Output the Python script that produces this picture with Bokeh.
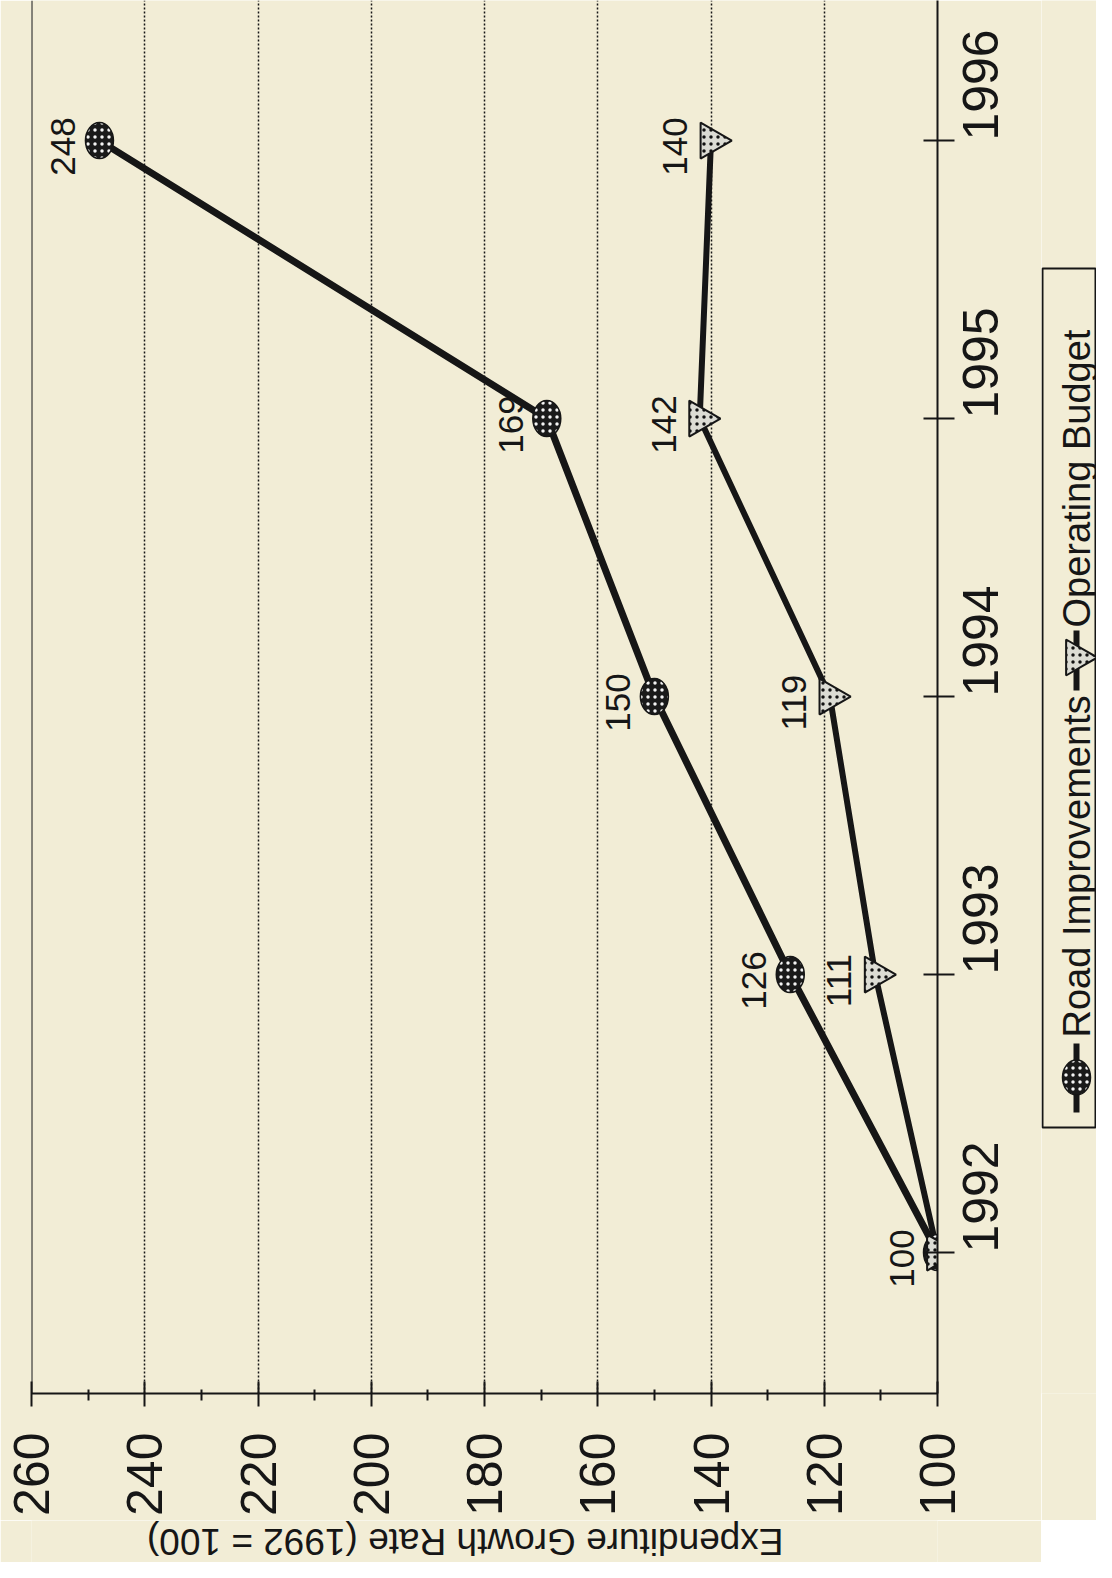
import math
from bokeh.plotting import figure
from bokeh.models import Range1d, FixedTicker, Span
from bokeh.layouts import row, column
from bokeh.embed import file_html
from bokeh.resources import INLINE
from bokeh.core.properties import value

# ---- data ----
years = [1992, 1993, 1994, 1995, 1996]
road_improvements = [100, 126, 150, 169, 248]
operating_budget = [100, 111, 119, 142, 140]
road_labels = ["100", "126", "150", "169", "248"]
oper_labels = ["100", "111", "119", "142", "140"]
value_ticks = [100, 120, 140, 160, 180, 200, 220, 240, 260]
value_minor_ticks = [110, 130, 150, 170, 190, 210, 230, 250]
grid_values = [120, 140, 160, 180, 200, 220, 240]
year_ticks = [1992, 1993, 1994, 1995, 1996]
axis_title = "Expenditure Growth Rate (1992 = 100)"
legend_names = ["Road Improvements", "Operating Budget"]

BG = "#F2EDD6"
INK = "#161616"
FONT = "Liberation Sans"

TOTAL_W, TOTAL_H = 1096, 1562
P_W, P_H = 1041, 1520
BORDER_L, BORDER_R, BORDER_B = 31, 104, 127

p = figure(width=P_W, height=P_H,
           x_range=Range1d(260, 100), y_range=Range1d(1991.493, 1996.504),
           output_backend="svg", toolbar_location=None,
           y_axis_location="right",
           min_border_left=BORDER_L, min_border_right=BORDER_R,
           min_border_top=0, min_border_bottom=BORDER_B,
           background_fill_color=BG, border_fill_color=BG,
           outline_line_color=None)

# bottom (value) axis
xa = p.xaxis[0]
xa.ticker = FixedTicker(ticks=value_ticks, minor_ticks=value_minor_ticks)
xa.axis_line_color = INK
xa.axis_line_width = 2
xa.major_tick_line_color = INK
xa.major_tick_line_width = 2
xa.major_tick_in = 12
xa.major_tick_out = 13
xa.minor_tick_line_color = INK
xa.minor_tick_line_width = 2
xa.minor_tick_in = 4
xa.minor_tick_out = 7
xa.major_label_orientation = math.pi / 2
xa.major_label_standoff = 26
xa.major_label_text_font = FONT
xa.major_label_text_font_size = "50px"
xa.major_label_text_color = INK

# right (year) axis
ya = p.yaxis[0]
ya.ticker = FixedTicker(ticks=year_ticks, minor_ticks=[])
ya.axis_line_color = INK
ya.axis_line_width = 2
ya.major_tick_line_color = INK
ya.major_tick_line_width = 2
ya.major_tick_in = 14
ya.major_tick_out = 17
ya.minor_tick_line_color = None
ya.major_label_orientation = math.pi / 2
ya.major_label_standoff = 26
ya.major_label_text_font = FONT
ya.major_label_text_font_size = "50px"
ya.major_label_text_color = INK

p.xgrid.ticker = FixedTicker(ticks=grid_values)
p.xgrid.grid_line_color = INK
p.xgrid.grid_line_dash = "2 2"
p.xgrid.grid_line_width = 1.5
p.ygrid.grid_line_color = None

p.add_layout(Span(location=260, dimension="height", line_color=INK, line_width=2))

# data labels (drawn first, so lines pass over them)
p.text(x=road_improvements, y=years, text=road_labels, angle=math.pi / 2,
       text_align="center", text_baseline="middle", x_offset=-36, y_offset=6,
       text_font=value(FONT), text_font_size="35px", text_color=INK)
p.text(x=operating_budget[1:], y=years[1:], text=oper_labels[1:], angle=math.pi / 2,
       text_align="center", text_baseline="middle", x_offset=-36, y_offset=6,
       text_font=value(FONT), text_font_size="35px", text_color=INK)

# lines
p.line(x=road_improvements, y=years, line_color=INK, line_width=7)
p.line(x=operating_budget, y=years, line_color=INK, line_width=6)

# markers
p.ellipse(x=road_improvements, y=years, width=28, height=36,
          width_units="screen", height_units="screen",
          fill_color="#1a1a1a", line_color=INK, line_width=1.5,
          hatch_pattern="dot", hatch_color="#f4f4f4", hatch_scale=7, hatch_weight=2)
p.scatter(x=operating_budget, y=years, marker="triangle", size=36, angle=-math.pi / 2,
          fill_color="#dcdcd4", line_color=INK, line_width=2,
          hatch_pattern="dot", hatch_color="#111111", hatch_scale=7, hatch_weight=2.5)

# ---- legend panel (same top/bottom borders as the chart so the frames line up) ----
lg = figure(width=TOTAL_W - P_W, height=P_H, x_range=Range1d(0, 55), y_range=Range1d(0, 1393),
            output_backend="svg", toolbar_location=None,
            x_axis_type=None, y_axis_type=None,
            min_border_left=0, min_border_right=0,
            min_border_top=0, min_border_bottom=BORDER_B,
            background_fill_color=BG, border_fill_color=BG,
            outline_line_color=None)
lg.grid.visible = False

lg.quad(left=[1], right=[54], bottom=[266], top=[1125],
        fill_color=None, line_color=INK, line_width=2)
lx = 35
lg.segment(x0=[lx], y0=[281], x1=[lx], y1=[350], line_color=INK, line_width=6)
lg.ellipse(x=[lx], y=[316], width=28, height=35, width_units="screen", height_units="screen",
           fill_color="#1a1a1a", line_color=INK, line_width=1.5,
           hatch_pattern="dot", hatch_color="#f4f4f4", hatch_scale=7, hatch_weight=2)
lg.text(x=[lx], y=[356], text=[legend_names[0]], angle=math.pi / 2,
        text_align="left", text_baseline="middle",
        text_font=value(FONT), text_font_size="38px", text_color=INK)
lg.segment(x0=[lx], y0=[703], x1=[lx], y1=[763], line_color=INK, line_width=6)
lg.scatter(x=[lx], y=[736], marker="triangle", size=36, angle=-math.pi / 2,
           fill_color="#dcdcd4", line_color=INK, line_width=2,
           hatch_pattern="dot", hatch_color="#111111", hatch_scale=7, hatch_weight=2.5)
lg.text(x=[lx], y=[766], text=[legend_names[1]], angle=math.pi / 2,
        text_align="left", text_baseline="middle",
        text_font=value(FONT), text_font_size="38px", text_color=INK)

# ---- axis title strip (upside down, as on the scanned page) ----
tf = figure(width=P_W, height=TOTAL_H - P_H, x_range=p.x_range, y_range=Range1d(0, 1),
            output_backend="svg", toolbar_location=None,
            x_axis_type=None, y_axis_type=None,
            min_border_left=BORDER_L, min_border_right=BORDER_R,
            min_border_top=0, min_border_bottom=0,
            background_fill_color=BG, border_fill_color=BG,
            outline_line_color=None)
tf.grid.visible = False
tf.text(x=[183.4], y=[0.5], text=[axis_title], angle=math.pi,
        text_align="center", text_baseline="middle",
        text_font=value(FONT), text_font_size="37px", text_color=INK)

layout = column(row(p, lg), tf)
open("out.html", "w").write(file_html(layout, INLINE))
